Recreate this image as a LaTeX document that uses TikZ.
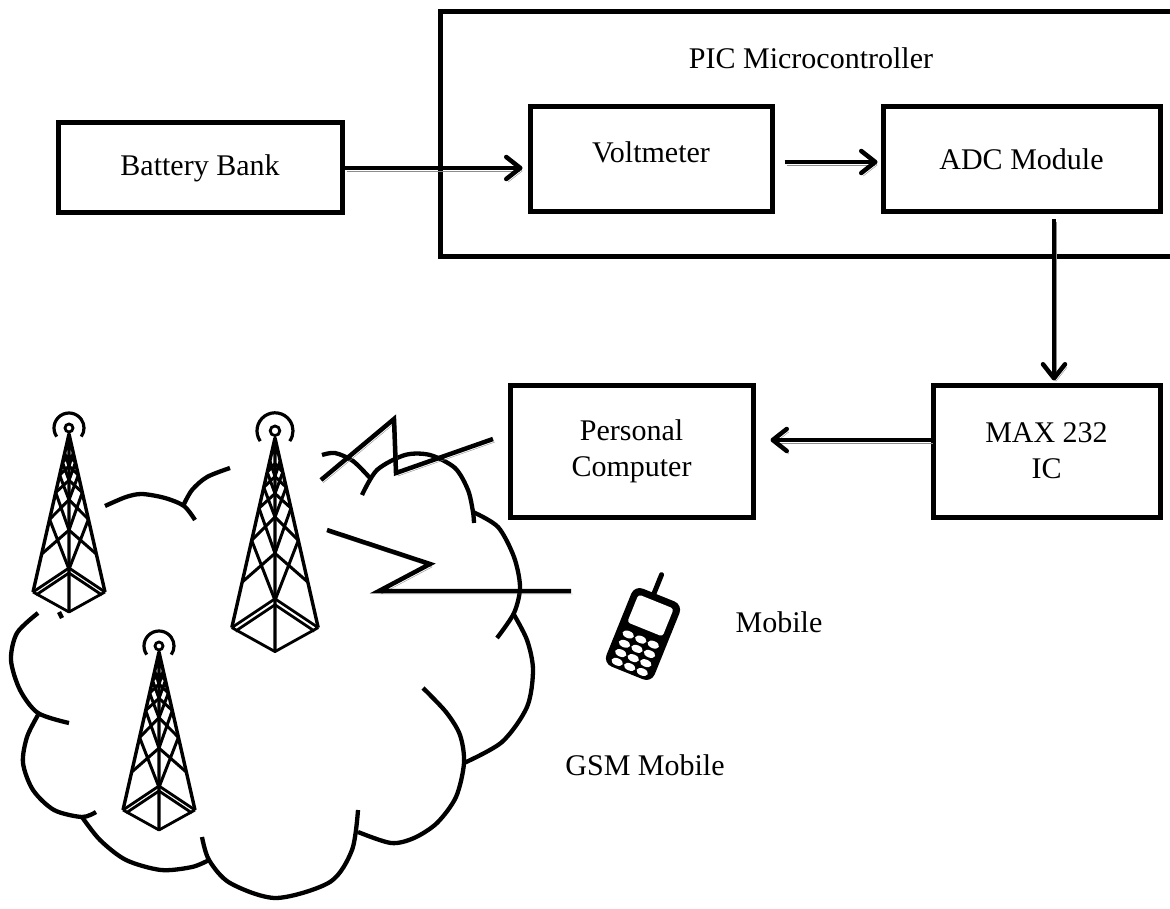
\documentclass[tikz,border=0pt]{standalone}
\usepackage{fontspec}
\setmainfont{Liberation Serif}
\usetikzlibrary{arrows.meta,calc}
\begin{document}
\begin{tikzpicture}[x=1pt,y=-1pt,
  lbl/.style={font=\fontsize{30}{36}\selectfont, align=center, inner sep=0pt},
  blk/.style={draw, line width=5pt, inner sep=0pt, lbl},
  flow/.style={line width=4.5pt, line cap=butt,
    -{Straight Barb[length=14pt,width=22pt,round]},
    preaction={draw=black!45, transform canvas={shift={(2pt,-3pt)}}}},
  zigzag/.style={line width=4.5pt, line join=miter,
    preaction={draw=black!45, transform canvas={shift={(2pt,-3pt)}}}},
  cloudarc/.style={line width=4.3pt, line cap=butt},
  tower/.pic={
    % antenna head
    \draw[line width=2.8pt] (0,-6) circle[radius=4];
    \draw[line width=3.2pt] ([shift={(145:15)}]0,-6) arc[start angle=145, end angle=395, radius=15];
    % legs
    \draw[line width=3.4pt, line join=round]
      (-36,158) -- (0,0) -- (36,158) (0,0) -- (0,178);
    % base
    \draw[line width=2.8pt, line join=round]
      (-36,158) -- (0,178) -- (36,158)
      (-36,158) -- (0,134) -- (36,158)
      (-33,161) -- (0,139) -- (33,161);
    % cross bracing of the two front faces
    \foreach \a/\b in {0.12/0.18,0.18/0.26,0.26/0.37,0.37/0.54,0.54/0.76}{
      \draw[line width=3pt]
        ({-36*\a},{158*\a}) -- (0,{178*\b})
        (0,{178*\a}) -- ({-36*\b},{158*\b})
        ({36*\a},{158*\a}) -- (0,{178*\b})
        (0,{178*\a}) -- ({36*\b},{158*\b});
    }
  }
]
\useasboundingbox (0,0) rectangle (1170,909);

% ---- controller block ----
\draw[line width=5pt] (1175,12) -- (440,12) -- (440,257) -- (1175,257);
\node[lbl] (pic) at (811,58) {PIC Microcontroller};

\node[blk, minimum width=284pt, minimum height=90pt]  (bat) at (200,168)   {Battery Bank};
\node[blk, minimum width=242pt, minimum height=105pt, text depth=15pt] (volt) at (651,159.5) {Voltmeter};
\node[blk, minimum width=277pt, minimum height=105pt] (adc) at (1021.5,159.5) {ADC Module};
\node[blk, minimum width=227pt, minimum height=132pt] (max) at (1046.5,451) {MAX 232\\IC};
\node[blk, minimum width=243pt, minimum height=132pt] (pc) at (631.5,451) {Personal\\Computer};

\draw[flow, shorten >=5pt] (bat.east) -- (bat.east -| volt.west);
\draw[flow, shorten <=10pt, shorten >=3pt] ([yshift=-2.5pt]volt.east) -- ([yshift=-2.5pt]adc.west);
\draw[flow, shorten <=5pt, shorten >=2pt] ([xshift=7.5pt]max.north |- adc.south) -- ([xshift=7.5pt]max.north);
\draw[flow, shorten >=15pt] ([yshift=11pt]max.west) -- ([yshift=11pt]pc.east);

% ---- GSM cloud ----
\draw[cloudarc] plot[smooth] coordinates {(105,506) (126,497) (142,494) (165,498) (184,506) (195,520)};
\draw[cloudarc] plot[smooth] coordinates {(183,506) (192,490) (207,477) (230,468)};
\draw[cloudarc] plot[smooth] coordinates {(322,455) (335,453) (353,461) (370,478)};
\draw[cloudarc] plot[smooth] coordinates {(362,495) (377,470) (405,455) (430,455) (455,468) (468,490) (473,512) (474,523)};
\draw[cloudarc] plot[smooth] coordinates {(473,512) (498,527) (514,557) (520,587) (514,613) (497,638)};
\draw[cloudarc] plot[smooth] coordinates {(513,613) (527,640) (533,670) (527,707) (502,742) (464,763)};
\draw[cloudarc] plot[smooth] coordinates {(423,688) (446,712) (460,735) (464,763) (456,797) (437,823) (414,838) (391,843) (358,832)};
\draw[cloudarc] plot[smooth] coordinates {(202,837) (209,860) (230,883) (276,898) (330,882) (352,850) (358,810)};
\draw[cloudarc] plot[smooth] coordinates {(209,860) (192,867) (161,870) (126,860) (100,840) (82,817)};
\draw[cloudarc] plot[smooth] coordinates {(38,715) (27,737) (23,763) (33,790) (54,810) (82,817) (96,812)};
\draw[cloudarc] plot[smooth] coordinates {(38,613) (17,633) (11,660) (20,690) (38,713) (69,723)};
\draw[cloudarc] (59,612) -- (62,618);

% ---- towers ----
\pic at (69,434) {tower};
\pic[scale=1.2] at (275,438) {tower};
\pic at (159,652) {tower};

% ---- radio links ----
\coordinate (t2a) at (321,480);
\coordinate (t2b) at (327,530);
\coordinate (pcend) at (493,439);
\coordinate (mobend) at (571,591);
\draw[zigzag] (t2a) -- (394,419) -- (396,473) -- (pcend);
\draw[zigzag] (t2b) -- (430,564) -- (379,591) -- (mobend);

% ---- mobile handset ----
\begin{scope}[shift={(643,634)}, rotate=-22]
  \fill[rounded corners=9pt] (-26,-42) rectangle (26,42);
  \fill[white, rounded corners=3pt] (-19,-35) rectangle (19,-5);
  \foreach \cx in {-13.5,0,13.5}
    \foreach \cy in {6,16,26,35.5}
      \fill[white] (\cx,\cy) ellipse[x radius=6, y radius=3.6];
  \draw[line width=5pt, line cap=round] (-5,-42) -- (-5,-62);
\end{scope}

\node[lbl] (mob) at (779,622) {Mobile};
\node[lbl] (gsm) at (645,765) {GSM Mobile};
\end{tikzpicture}
\end{document}
